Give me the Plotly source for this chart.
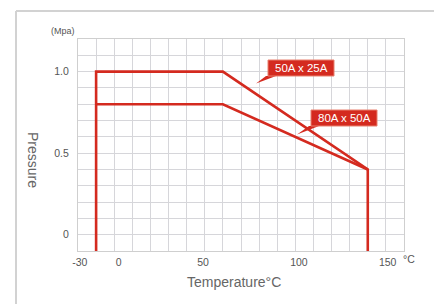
import plotly.graph_objects as go

# ---- data ----
temp_50x25 = [-20, -20, 50, 130, 130]
pres_50x25 = [-0.1, 1.0, 1.0, 0.4, -0.1]
temp_80x50 = [-20, 50, 130]
pres_80x50 = [0.8, 0.8, 0.4]

x_tick_labels = ['-30', '0', '50', '100', '150']
x_tick_pos = [-29, -7.5, 39, 92, 141]
y_tick_vals = [0, 0.5, 1.0]
y_tick_labels = ['0', '0.5', '1.0']

callout_labels = ['50A x 25A', '80A x 50A']

# ---- layout geometry (page has an 8px body margin) ----
OFF = 8
W, H = 442 - OFF, 304 - OFF
ML, MR, MT, MB = 78 - OFF, 38, 39 - OFF, 53
XR = [-30, 150]
YR = [-0.1, 1.2]
PW, PH = W - ML - MR, H - MT - MB

# helpers take screen pixels
def px2x(px):
    return XR[0] + (px - OFF - ML) / PW * (XR[1] - XR[0])

def py2y(py):
    return YR[1] - (py - OFF - MT) / PH * (YR[1] - YR[0])

def pxp(px):
    return (px - OFF - ML) / PW

def pyp(py):
    return (H - MB - (py - OFF)) / PH

RED = '#d42a1f'
GRID = '#d6d6da'
TXT = '#555555'
FONT = 'Liberation Sans, Arial, sans-serif'

fig = go.Figure()
fig.add_trace(go.Scatter(x=temp_50x25, y=pres_50x25, mode='lines',
                         line=dict(color=RED, width=2.6), name=callout_labels[0],
                         hoverinfo='skip'))
fig.add_trace(go.Scatter(x=temp_80x50, y=pres_80x50, mode='lines',
                         line=dict(color=RED, width=2.6), name=callout_labels[1],
                         hoverinfo='skip'))

shapes = []
annotations = []

boxes = [
    dict(x0=268, x1=334, y0=60, y1=76, tail=[(266, 76), (256, 83.5), (276, 76)]),
    dict(x0=311, x1=377, y0=110, y1=126, tail=[(309, 126), (297, 134.5), (319, 126)]),
]
for lab, b in zip(callout_labels, boxes):
    t = b['tail']
    path = 'M {} {} L {} {} L {} {} Z'.format(px2x(t[0][0]), py2y(t[0][1]),
                                               px2x(t[1][0]), py2y(t[1][1]),
                                               px2x(t[2][0]), py2y(t[2][1]))
    shapes.append(dict(type='path', path=path, xref='x', yref='y',
                       fillcolor=RED, line=dict(width=0), layer='above'))
    shapes.append(dict(type='rect', xref='x', yref='y',
                       x0=px2x(b['x0']), x1=px2x(b['x1']),
                       y0=py2y(b['y1']), y1=py2y(b['y0']),
                       fillcolor=RED, line=dict(color='#e8806f', width=1), layer='above'))
    annotations.append(dict(x=px2x((b['x0'] + b['x1']) / 2), y=py2y((b['y0'] + b['y1']) / 2),
                            xref='x', yref='y', text=lab, showarrow=False,
                            font=dict(family=FONT, size=11.5, color='white'),
                            xanchor='center', yanchor='middle'))

# outer frame
shapes.append(dict(type='line', xref='paper', yref='paper',
                   x0=pxp(16), x1=pxp(16), y0=pyp(11), y1=pyp(330),
                   line=dict(color='#d2d2d2', width=2)))
shapes.append(dict(type='line', xref='paper', yref='paper',
                   x0=pxp(16), x1=pxp(470), y0=pyp(11), y1=pyp(11),
                   line=dict(color='#d2d2d2', width=2)))

annotations += [
    dict(xref='paper', yref='paper', x=pxp(63), y=pyp(31), text='(Mpa)', showarrow=False,
         font=dict(family=FONT, size=9, color=TXT), xanchor='center', yanchor='middle'),
    dict(xref='paper', yref='paper', x=pxp(409), y=pyp(259), text='°C', showarrow=False,
         font=dict(family=FONT, size=10.5, color=TXT), xanchor='center', yanchor='middle'),
    dict(xref='paper', yref='paper', x=pxp(234), y=pyp(282), text='Temperature°C', showarrow=False,
         font=dict(family=FONT, size=14, color='#666666'), xanchor='center', yanchor='middle'),
    dict(xref='paper', yref='paper', x=pxp(33), y=pyp(160), text='Pressure', showarrow=False,
         textangle=90, font=dict(family=FONT, size=14, color='#666666'),
         xanchor='center', yanchor='middle'),
]

fig.update_layout(
    width=W, height=H,
    margin=dict(l=ML, r=MR, t=MT, b=MB, pad=0),
    paper_bgcolor='white', plot_bgcolor='white',
    showlegend=False,
    shapes=shapes, annotations=annotations,
    xaxis=dict(range=XR, tickvals=x_tick_pos, ticktext=x_tick_labels,
               showgrid=False, zeroline=False, ticks='',
               showline=True, mirror=True, linecolor='#cfcfcf', linewidth=1,
               tickfont=dict(family=FONT, size=10.5, color=TXT), ticklabelstandoff=1,
               minor=dict(dtick=10, tick0=-30, showgrid=True, gridcolor=GRID, gridwidth=1)),
    yaxis=dict(range=YR, tickvals=y_tick_vals, ticktext=y_tick_labels,
               showgrid=False, zeroline=False, ticks='',
               showline=True, mirror=True, linecolor='#cfcfcf', linewidth=1,
               tickfont=dict(family=FONT, size=10.5, color=TXT), ticklabelstandoff=6,
               minor=dict(dtick=0.1, tick0=-0.1, showgrid=True, gridcolor=GRID, gridwidth=1)),
)

fig.write_html('out.html')
